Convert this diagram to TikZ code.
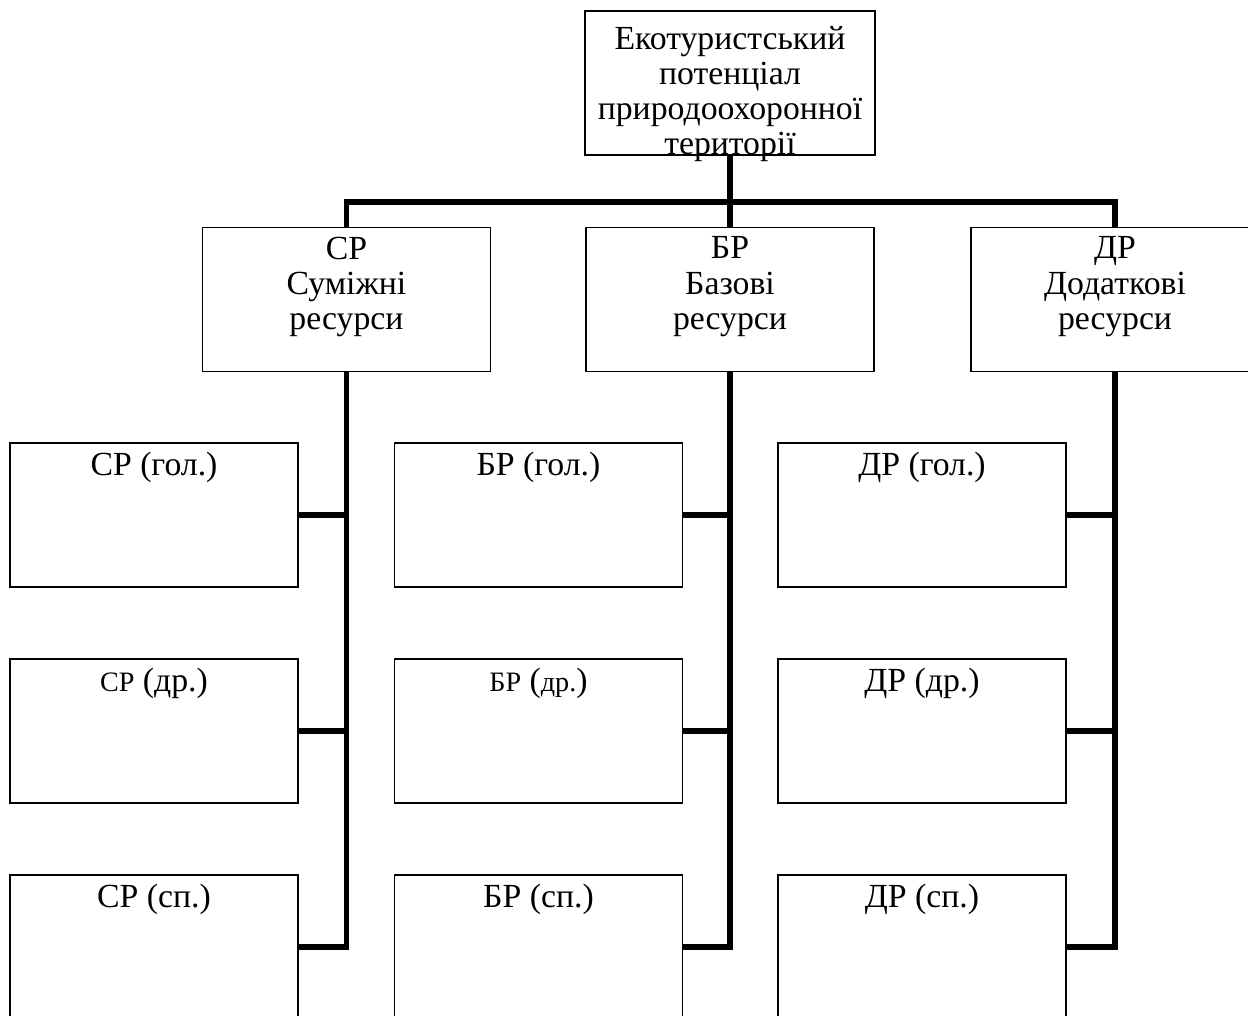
\documentclass[tikz,border=0pt]{standalone}
\usepackage{fontspec}
\setmainfont{Liberation Serif}
\usetikzlibrary{positioning}

\newcommand{\smalltext}[1]{{\fontsize{20}{25}\selectfont #1}}

\begin{document}
\begin{tikzpicture}[x=0.025cm, y=-0.025cm,
  every node/.style={font=\fontsize{24}{25}\selectfont},
  resbox/.style={draw, line width=1pt, minimum width=7.2cm, minimum height=3.6cm, inner sep=0pt},
  boxtext/.style={anchor=north, align=center, inner sep=0pt, yshift=-7pt},
  bus/.style={line width=4pt}]
\useasboundingbox (0,0) rectangle (1248,1016);

% top
\node[resbox, minimum width=7.25cm, label={[boxtext, yshift=-4pt]north:Екотуристський\\потенціал\\природоохоронної\\території}] (top) at (730,83) {};

% resource groups
\node[resbox, label={[boxtext]north:СР\\Суміжні\\ресурси}] (cp) at (346.5,299.5) {};
\node[resbox, label={[boxtext]north:БР\\Базові\\ресурси}] (br) at (730,299.5) {};
\node[resbox, label={[boxtext]north:ДР\\Додаткові\\ресурси}] (dr) at (1115,299.5) {};

% subgroups
\node[resbox, label={[boxtext]north:СР (гол.)}] (cp1) at (154,515) {};
\node[resbox, label={[boxtext]north:\smalltext{СР} (др.)}] (cp2) at (154,731) {};
\node[resbox, label={[boxtext]north:СР (сп.)}] (cp3) at (154,947) {};
\node[resbox, label={[boxtext]north:БР (гол.)}] (br1) at (538.5,515) {};
\node[resbox, label={[boxtext]north:\smalltext{БР} (\smalltext{др.})}] (br2) at (538.5,731) {};
\node[resbox, label={[boxtext]north:БР (сп.)}] (br3) at (538.5,947) {};
\node[resbox, label={[boxtext]north:ДР (гол.)}] (dr1) at (922,515) {};
\node[resbox, label={[boxtext]north:ДР (др.)}] (dr2) at (922,731) {};
\node[resbox, label={[boxtext]north:ДР (сп.)}] (dr3) at (922,947) {};

% bus lines
\coordinate (fork) at (730,202);
\draw[bus] (top.south) -- (br.north);
\draw[bus] (cp.north) |- (fork) -| (dr.north);

\draw[bus] (cp.south) |- (cp3.east);
\draw[bus] (cp1.east) -- (cp1.east -| cp.south);
\draw[bus] (cp2.east) -- (cp2.east -| cp.south);

\draw[bus] (br.south) |- (br3.east);
\draw[bus] (br1.east) -- (br1.east -| br.south);
\draw[bus] (br2.east) -- (br2.east -| br.south);

\draw[bus] (dr.south) |- (dr3.east);
\draw[bus] (dr1.east) -- (dr1.east -| dr.south);
\draw[bus] (dr2.east) -- (dr2.east -| dr.south);
\end{tikzpicture}
\end{document}
